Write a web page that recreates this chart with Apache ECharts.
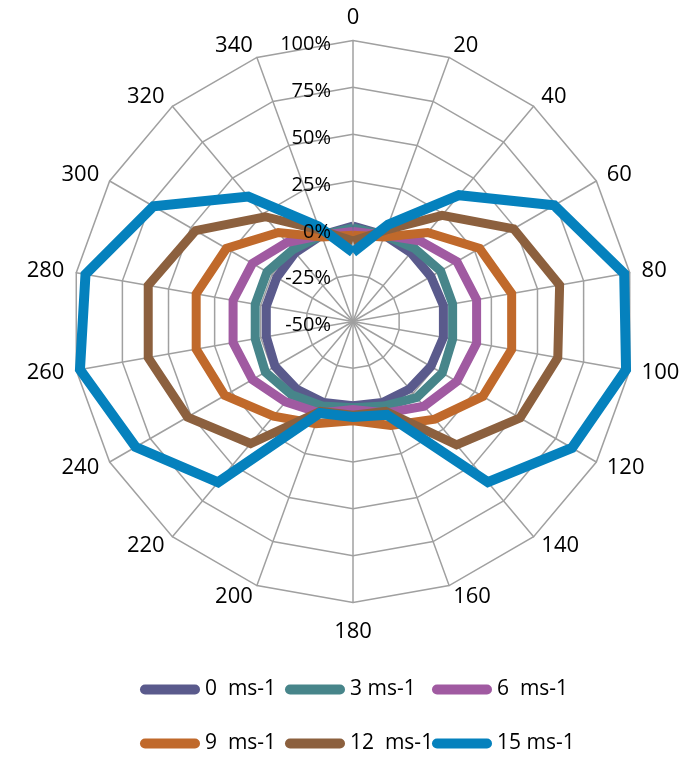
<!DOCTYPE html>
<html>
<head>
<meta charset="utf-8">
<script src="https://cdn.jsdelivr.net/npm/echarts@6/dist/echarts.min.js"></script>
<style>
html,body{margin:0;padding:0;background:#fff;}
#chart{width:693px;height:758px;}
</style>
</head>
<body>
<div id="chart"></div>
<script>
// Direction (degrees) categories, clockwise from top
var directions = ['0','20','40','60','80','100','120','140','160','180','200','220','240','260','280','300','320','340'];
// Radial tick range (%)
var axisMin = -50;
var axisMax = 100;
var axisSplits = 6;

var seriesNames = ['0  ms-1', '3 ms-1', '6  ms-1', '9  ms-1', '12  ms-1', '15 ms-1'];

var s0  = [1, -1, -2, -2, -1, -1, -2, -3, -4, -5, -4, -3, -2, -3, -3, -3, -2, -1];
var s3  = [0, -1, 1, 4, 4, 4, 5, 3, -2, -4, -2, 1, 4, 3, 3, 3, 0, -1];
var s6  = [-2, -1, 6, 14, 17, 17, 14, 9, 2, -3, 2, 6, 12, 15, 15, 12, 5, -1];
var s9  = [-4, -2, 12, 28, 36, 36, 30, 18, 9, 3, 8, 16, 29, 35, 35, 28, 12, -2];
var s12 = [-7, 2, 24, 49, 62, 61, 53, 36, 1, 0, 1, 35, 52, 61, 61, 47, 23, 2];
var s15 = [-13, 5, 38, 74, 97, 98, 85, 62, 3, 1, 2, 62, 84, 98, 95, 73, 37, 4];

var allSeries = [s0, s3, s6, s9, s12, s15];
var colors = ['#5a5a8c', '#47858a', '#a05aa1', '#c0692b', '#8c603e', '#0581bd'];

var FONT = 'Open Sans';

// ECharts radar places indicators counter-clockwise; reorder to get clockwise layout
var n = directions.length;
var order = [];
for (var i = 0; i < n; i++) order.push((n - i) % n);

function makeIndicators(withLabel) {
  return order.map(function (k, idx) {
    var ind = { name: directions[k], min: axisMin, max: axisMax };
    if (withLabel && idx === 0) {
      ind.axisLabel = {
        show: true, formatter: '{v|{value}%}', color: '#000', fontSize: 20, fontFamily: FONT, margin: 22,
        rich: { v: { color: '#000', fontSize: 20, fontFamily: FONT, padding: [8, 0, 0, 0] } }
      };
    }
    return ind;
  });
}

var series = allSeries.map(function (vals, si) {
  return {
    type: 'radar',
    radarIndex: 0,
    name: seriesNames[si],
    symbol: 'none',
    z: 2 + si,
    lineStyle: { color: colors[si], width: si === 5 ? 10 : 9, join: 'miter' },
    itemStyle: { color: colors[si] },
    data: [{ name: seriesNames[si], value: order.map(function (k) { return vals[k]; }) }]
  };
});

var pill = 'path://M5,0 L55,0 A5,5 0 0 1 55,10 L5,10 A5,5 0 0 1 5,0 Z';
var legendLefts = [140, 285, 432];
var legendTops = [679, 733];
var legends = seriesNames.map(function (nm, i) {
  return {
    data: [{ name: nm, icon: pill }],
    top: legendTops[Math.floor(i / 3)],
    left: legendLefts[i % 3],
    padding: 0,
    itemWidth: 60,
    itemHeight: 10,
    itemTextGap: 3,
    textStyle: { color: '#000', fontSize: 21, fontFamily: FONT },
    selectedMode: false
  };
});

var radarBase = {
  center: [353, 321.5],
  radius: 281,
  startAngle: 90,
  shape: 'polygon',
  splitNumber: axisSplits
};

var chart = echarts.init(document.getElementById('chart'), null, { renderer: 'canvas' });
chart.setOption({
  animation: false,
  backgroundColor: '#fff',
  radar: [
    Object.assign({}, radarBase, {
      nameGap: 12,
      axisName: { color: '#000', fontSize: 22, fontFamily: FONT, padding: [6, 0, 0, 0] },
      splitLine: { lineStyle: { color: '#a0a0a0', width: 1.5 } },
      splitArea: { show: false },
      axisLine: { lineStyle: { color: '#a0a0a0', width: 1.5 } },
      axisTick: { show: false },
      axisLabel: { show: false },
      indicator: makeIndicators(false)
    }),
    Object.assign({}, radarBase, {
      z: 20,
      axisName: { show: false },
      splitLine: { show: false },
      splitArea: { show: false },
      axisLine: { show: false },
      axisTick: { show: false },
      axisLabel: { show: false },
      indicator: makeIndicators(true)
    })
  ],
  legend: legends,
  series: series
});
</script>
</body>
</html>
